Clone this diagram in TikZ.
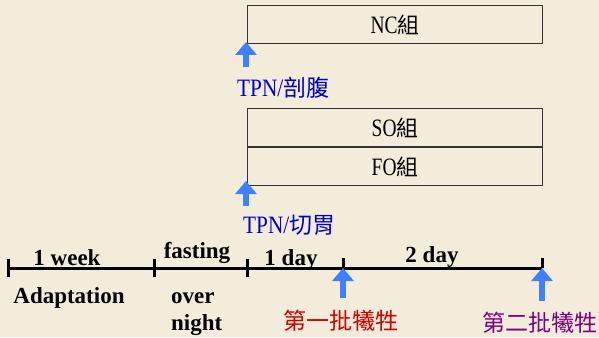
\documentclass[tikz,border=0pt]{standalone}
\usepackage{graphicx}
\usepackage{fontspec}
\setmainfont{Liberation Serif}
\newfontfamily\cjk{Noto Sans CJK TC}
\usetikzlibrary{arrows.meta}
\newcommand{\narrowlatin}[1]{\scalebox{0.78}[1]{#1}}
\definecolor{bg}{HTML}{F4ECDA}
\definecolor{arrowblue}{HTML}{4080FF}
\definecolor{labelblue}{HTML}{0000CC}
\definecolor{firstred}{HTML}{D00000}
\definecolor{secondpurple}{HTML}{800080}
\definecolor{boxline}{HTML}{333333}
\tikzset{
  groupbox/.style={draw=boxline, line width=1.4pt, minimum width=295pt, minimum height=38pt, inner sep=0pt},
  uparrow/.style={draw=arrowblue, line width=6pt, -{Triangle[width=21pt,length=13pt]}},
  tl/.style={line width=3pt, black},
  tlabel/.style={font=\fontsize{23}{27}\selectfont\bfseries, inner sep=0pt},
  cjklabel/.style={inner sep=0pt}
}
\newcommand{\grouptext}[1]{{\fontsize{25}{28}\selectfont\narrowlatin{#1}}{\fontsize{22}{26}\selectfont\cjk 組}}
\newcommand{\tpntext}[1]{{\fontsize{25}{28}\selectfont\scalebox{0.85}[1]{TPN/}}{\fontsize{23}{27}\selectfont\cjk #1}}
\begin{document}
\begin{tikzpicture}[x=1pt,y=-1pt]
\fill[bg] (0,0) rectangle (599,337);
\useasboundingbox (0,0) rectangle (599,337);

% group boxes
\node[groupbox, anchor=north west] (nc) at (247,5) {};
\node[inner sep=0pt] (nct) at (nc.center) {\grouptext{NC}};
\node[groupbox, anchor=north west] (so) at (247,108) {};
\node[inner sep=0pt] (sot) at (so.center) {\grouptext{SO}};
\node[groupbox, anchor=north west] (fo) at (247,147) {};
\node[inner sep=0pt] (fot) at (fo.center) {\grouptext{FO}};

% TPN arrows
\coordinate (a1s) at (246,67);
\coordinate (a1e) at (246,42);
\draw[uparrow] (a1s) -- (a1e);
\node[cjklabel, text=labelblue, anchor=west] (tpn1) at (237,88) {\tpntext{剖腹}};

\coordinate (a2s) at (246,206);
\coordinate (a2e) at (246,181);
\draw[uparrow] (a2s) -- (a2e);
\node[cjklabel, text=labelblue, anchor=west] (tpn2) at (243,225) {\tpntext{切胃}};

% timeline
\coordinate (t0) at (8,268);
\coordinate (t1) at (154,268);
\coordinate (t2) at (247,268);
\coordinate (t3) at (343,268);
\coordinate (t4) at (542,268);
\draw[tl] (t0) -- (t4);
\draw[tl] ([yshift=-9pt]t0) -- ([yshift=9pt]t0);
\draw[tl] ([yshift=-9pt]t1) -- ([yshift=9pt]t1);
\draw[tl] ([yshift=-9pt]t2) -- ([yshift=9pt]t2);
\draw[tl] ([yshift=10pt]t3) -- (t3);
\draw[tl] ([yshift=10pt]t4) -- (t4);

\node[tlabel, anchor=base] (w1) at (67,265) {1 week};
\node[tlabel, anchor=base] (fa) at (197,258) {fasting};
\node[tlabel, anchor=base] (d1) at (291,265) {1 day};
\node[tlabel, anchor=base] (d2) at (432,262) {2 day};
\node[tlabel, anchor=base] (ad) at (69,303) {Adaptation};
\node[tlabel, anchor=base west] (ov) at (171,303) {over};
\node[tlabel, anchor=base west] (ni) at (171,330) {night};

% sacrifice arrows
\coordinate (a3s) at (343,298);
\draw[uparrow] (a3s) -- (t3);
\coordinate (a4s) at (542,301);
\draw[uparrow] (a4s) -- (t4);

\node[font=\fontsize{23}{27}\selectfont\cjk, text=firstred, inner sep=0pt] (s1) at (341,321) {第一批犧牲};
\node[font=\fontsize{23}{27}\selectfont\cjk, text=secondpurple, inner sep=0pt] (s2) at (540,323) {第二批犧牲};
\end{tikzpicture}
\end{document}
